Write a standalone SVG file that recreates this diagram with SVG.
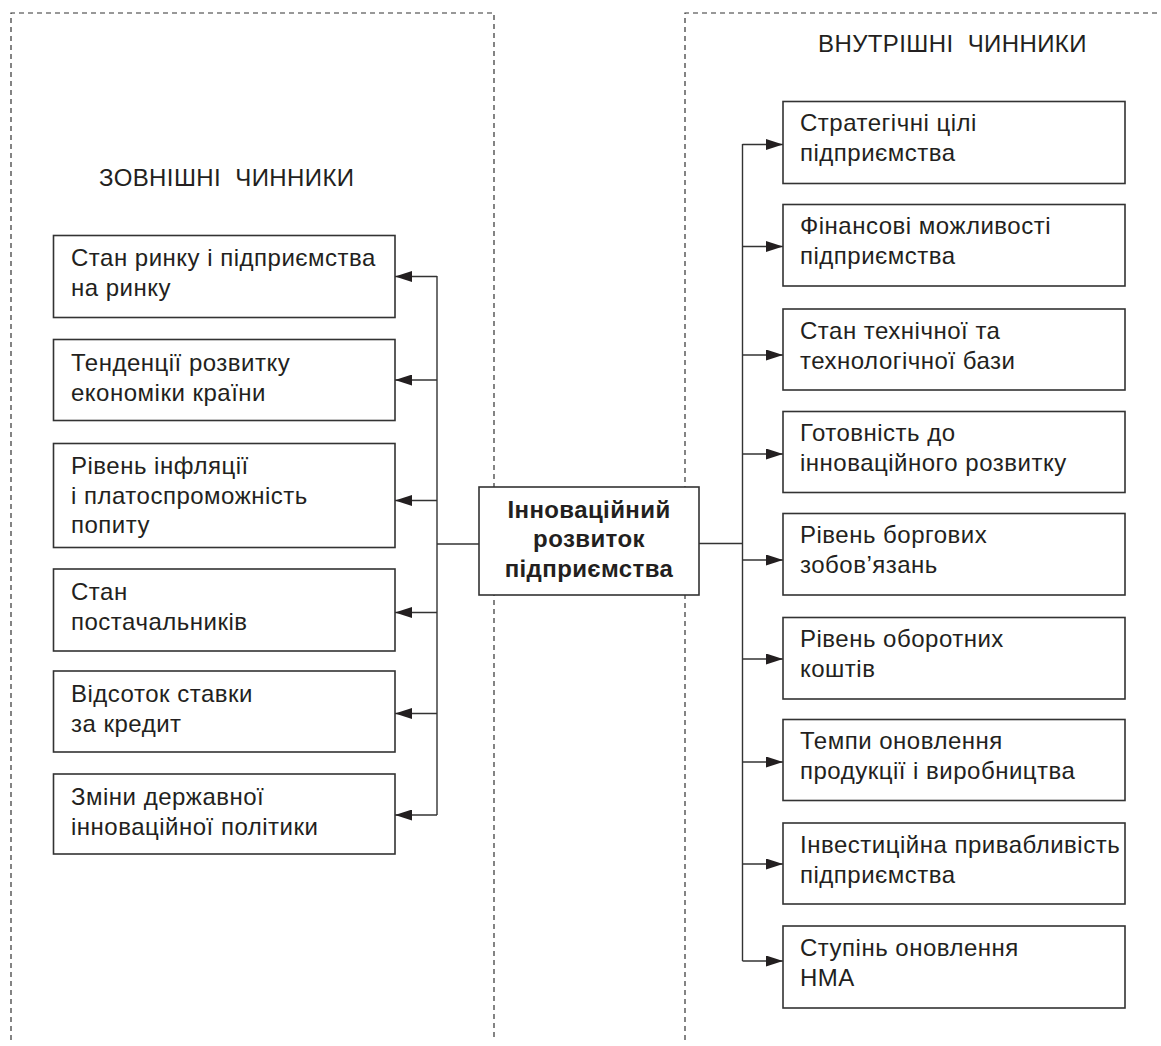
<svg xmlns="http://www.w3.org/2000/svg" width="1161" height="1046" viewBox="0 0 1161 1046">
<defs>
<style>
.bg{fill:#ffffff}
.dash{fill:none;stroke:#333;stroke-width:1.2;stroke-dasharray:5 4}
.box{fill:#ffffff;stroke:#333;stroke-width:1.6}
.ln{fill:none;stroke:#333;stroke-width:1.4}
.arr{fill:none;stroke:#333;stroke-width:1.4;marker-end:url(#ah)}
.t{font-family:"Liberation Sans",Arial,sans-serif;font-size:24px;fill:#231f20;letter-spacing:0.5px}
.title{font-family:"Liberation Sans",Arial,sans-serif;font-size:24px;fill:#231f20;white-space:pre;letter-spacing:0.4px}
.c{font-family:"Liberation Sans",Arial,sans-serif;font-size:24px;font-weight:bold;fill:#231f20;text-anchor:middle;letter-spacing:0.4px}
</style>
<marker id="ah" viewBox="0 0 17 11" refX="17" refY="5.5" markerWidth="17" markerHeight="11" markerUnits="userSpaceOnUse" orient="auto">
<path d="M0,0 L17,5.5 L0,11 z" fill="#231f20"/>
</marker>
</defs>
<rect class="bg" x="0" y="0" width="1161" height="1046"/>

<g id="frames">
<path class="dash" d="M11,1040 V13 H494 V1040"/>
<path class="dash" d="M685,1040 V13 H1161"/>
<text class="title" x="99" y="186" xml:space="preserve">ЗОВНІШНІ  ЧИННИКИ</text>
<text class="title" x="818" y="52" xml:space="preserve">ВНУТРІШНІ  ЧИННИКИ</text>
</g>

<g id="connectors">
<line class="ln" x1="437" y1="276" x2="437" y2="815"/>
<line class="ln" x1="437" y1="544" x2="479" y2="544"/>
<line class="arr" x1="437" y1="276.5" x2="395" y2="276.5"/>
<line class="arr" x1="437" y1="380" x2="395" y2="380"/>
<line class="arr" x1="437" y1="500.5" x2="395" y2="500.5"/>
<line class="arr" x1="437" y1="612.5" x2="395" y2="612.5"/>
<line class="arr" x1="437" y1="713.5" x2="395" y2="713.5"/>
<line class="arr" x1="437" y1="815" x2="395" y2="815"/>
<line class="ln" x1="742.5" y1="144" x2="742.5" y2="961"/>
<line class="ln" x1="699" y1="543.5" x2="742.5" y2="543.5"/>
<line class="arr" x1="742.5" y1="144.5" x2="783" y2="144.5"/>
<line class="arr" x1="742.5" y1="246.5" x2="783" y2="246.5"/>
<line class="arr" x1="742.5" y1="355" x2="783" y2="355"/>
<line class="arr" x1="742.5" y1="454" x2="783" y2="454"/>
<line class="arr" x1="742.5" y1="560" x2="783" y2="560"/>
<line class="arr" x1="742.5" y1="659" x2="783" y2="659"/>
<line class="arr" x1="742.5" y1="762" x2="783" y2="762"/>
<line class="arr" x1="742.5" y1="864" x2="783" y2="864"/>
<line class="arr" x1="742.5" y1="961" x2="783" y2="961"/>
</g>

<g id="center">
<rect class="box" x="479" y="487" width="220" height="108"/>
<text class="c" x="589" y="517.5">Інноваційний</text>
<text class="c" x="589" y="547">розвиток</text>
<text class="c" x="589" y="577">підприємства</text>
</g>

<g id="ext1">
<rect class="box" x="53.5" y="235.5" width="341.5" height="82"/>
<text class="t" x="71" y="266">Стан ринку і підприємства</text>
<text class="t" x="71" y="296">на ринку</text>
</g>
<g id="ext2">
<rect class="box" x="53.5" y="339.5" width="341.5" height="81"/>
<text class="t" x="71" y="371">Тенденції розвитку</text>
<text class="t" x="71" y="401">економіки країни</text>
</g>
<g id="ext3">
<rect class="box" x="53.5" y="443.5" width="341.5" height="104"/>
<text class="t" x="71" y="474">Рівень інфляції</text>
<text class="t" x="71" y="504">і платоспроможність</text>
<text class="t" x="71" y="533">попиту</text>
</g>
<g id="ext4">
<rect class="box" x="53.5" y="569" width="341.5" height="82"/>
<text class="t" x="71" y="600">Стан</text>
<text class="t" x="71" y="630">постачальників</text>
</g>
<g id="ext5">
<rect class="box" x="53.5" y="671" width="341.5" height="81"/>
<text class="t" x="71" y="702">Відсоток ставки</text>
<text class="t" x="71" y="732">за кредит</text>
</g>
<g id="ext6">
<rect class="box" x="53.5" y="774" width="341.5" height="80"/>
<text class="t" x="71" y="805">Зміни державної</text>
<text class="t" x="71" y="835">інноваційної політики</text>
</g>

<g id="int1">
<rect class="box" x="783" y="101.5" width="342" height="82"/>
<text class="t" x="800" y="131">Стратегічні цілі</text>
<text class="t" x="800" y="161">підприємства</text>
</g>
<g id="int2">
<rect class="box" x="783" y="204.5" width="342" height="81.5"/>
<text class="t" x="800" y="234">Фінансові можливості</text>
<text class="t" x="800" y="264">підприємства</text>
</g>
<g id="int3">
<rect class="box" x="783" y="309" width="342" height="81"/>
<text class="t" x="800" y="338.5">Стан технічної та</text>
<text class="t" x="800" y="368.5">технологічної бази</text>
</g>
<g id="int4">
<rect class="box" x="783" y="411.5" width="342" height="81"/>
<text class="t" x="800" y="441">Готовність до</text>
<text class="t" x="800" y="471">інноваційного розвитку</text>
</g>
<g id="int5">
<rect class="box" x="783" y="513.5" width="342" height="81.5"/>
<text class="t" x="800" y="543">Рівень боргових</text>
<text class="t" x="800" y="573">зобов’язань</text>
</g>
<g id="int6">
<rect class="box" x="783" y="617.5" width="342" height="81.5"/>
<text class="t" x="800" y="647">Рівень оборотних</text>
<text class="t" x="800" y="677">коштів</text>
</g>
<g id="int7">
<rect class="box" x="783" y="719.5" width="342" height="81"/>
<text class="t" x="800" y="749">Темпи оновлення</text>
<text class="t" x="800" y="779">продукції і виробництва</text>
</g>
<g id="int8">
<rect class="box" x="783" y="823" width="342" height="81"/>
<text class="t" x="800" y="852.5">Інвестиційна привабливість</text>
<text class="t" x="800" y="882.5">підприємства</text>
</g>
<g id="int9">
<rect class="box" x="783" y="926" width="342" height="82"/>
<text class="t" x="800" y="955.5">Ступінь оновлення</text>
<text class="t" x="800" y="985.5">НМА</text>
</g>
</svg>
